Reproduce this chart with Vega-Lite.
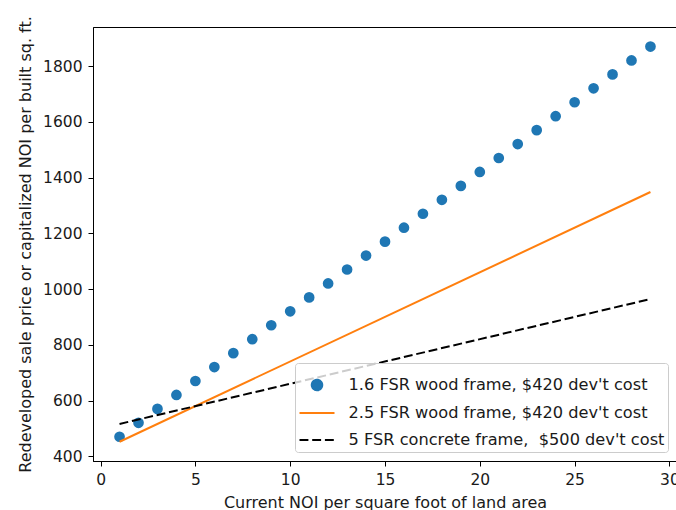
{
  "$schema": "https://vega.github.io/schema/vega-lite/v6.json",
  "width": 584,
  "height": 434,
  "autosize": {"type": "none"},
  "padding": {"left": 93, "top": 27, "right": 0, "bottom": 49},
  "background": "white",
  "config": {
    "font": "DejaVu Sans",
    "view": {"stroke": "#000000", "strokeWidth": 1},
    "axis": {
      "grid": false,
      "domainColor": "#000000",
      "domainWidth": 1,
      "tickColor": "#000000",
      "tickSize": 5,
      "tickWidth": 1,
      "labelFontSize": 15.5,
      "labelColor": "#1a1a1a",
      "titleFontSize": 16,
      "titleFontWeight": "normal",
      "titleColor": "#1a1a1a"
    },
    "legend": {
      "fillColor": "rgba(255,255,255,0.8)",
      "strokeColor": "#cccccc",
      "cornerRadius": 3,
      "padding": 3.5,
      "labelFontSize": 16.2,
      "labelColor": "#1a1a1a",
      "labelLimit": 0,
      "rowPadding": -6,
      "symbolSize": 1225,
      "symbolStrokeWidth": 2,
      "labelOffset": 13
    }
  },
  "datasets": {
    "dots": [
      {"x": 1, "y": 470, "series": "A"}, {"x": 2, "y": 520, "series": "A"}, {"x": 3, "y": 570, "series": "A"},
      {"x": 4, "y": 620, "series": "A"}, {"x": 5, "y": 670, "series": "A"}, {"x": 6, "y": 720, "series": "A"},
      {"x": 7, "y": 770, "series": "A"}, {"x": 8, "y": 820, "series": "A"}, {"x": 9, "y": 870, "series": "A"},
      {"x": 10, "y": 920, "series": "A"}, {"x": 11, "y": 970, "series": "A"}, {"x": 12, "y": 1020, "series": "A"},
      {"x": 13, "y": 1070, "series": "A"}, {"x": 14, "y": 1120, "series": "A"}, {"x": 15, "y": 1170, "series": "A"},
      {"x": 16, "y": 1220, "series": "A"}, {"x": 17, "y": 1270, "series": "A"}, {"x": 18, "y": 1320, "series": "A"},
      {"x": 19, "y": 1370, "series": "A"}, {"x": 20, "y": 1420, "series": "A"}, {"x": 21, "y": 1470, "series": "A"},
      {"x": 22, "y": 1520, "series": "A"}, {"x": 23, "y": 1570, "series": "A"}, {"x": 24, "y": 1620, "series": "A"},
      {"x": 25, "y": 1670, "series": "A"}, {"x": 26, "y": 1720, "series": "A"}, {"x": 27, "y": 1770, "series": "A"},
      {"x": 28, "y": 1820, "series": "A"}, {"x": 29, "y": 1870, "series": "A"}
    ],
    "orange": [
      {"x": 1, "y": 452, "series": "B"}, {"x": 29, "y": 1348, "series": "B"}
    ],
    "black": [
      {"x": 1, "y": 516, "series": "C"}, {"x": 29, "y": 964, "series": "C"}
    ]
  },
  "layer": [
    {
      "data": {"name": "dots"},
      "mark": {"type": "point", "filled": true, "opacity": 1, "size": 115, "shape": "circle"},
      "encoding": {
        "x": {
          "field": "x", "type": "quantitative",
          "scale": {"domain": [-0.4, 30.4], "nice": false, "zero": false},
          "axis": {"values": [0, 5, 10, 15, 20, 25, 30], "title": "Current NOI per square foot of land area", "labelPadding": 6, "titlePadding": 7}
        },
        "y": {
          "field": "y", "type": "quantitative",
          "scale": {"domain": [383, 1940], "nice": false, "zero": false},
          "axis": {"values": [400, 600, 800, 1000, 1200, 1400, 1600, 1800], "format": "d", "title": "Redeveloped sale price or capitalized NOI per built sq. ft.", "labelPadding": 6, "titlePadding": 9}
        },
        "color": {
          "field": "series", "type": "nominal",
          "scale": {"domain": ["A", "B", "C"], "range": ["#1f77b4", "#ff7f0e", "#000000"]},
          "legend": {
            "title": null,
            "orient": "bottom-right",
            "offset": 9,
            "labelExpr": "datum.value === 'A' ? \"1.6 FSR wood frame, $420 dev't cost\" : datum.value === 'B' ? \"2.5 FSR wood frame, $420 dev't cost\" : \"5 FSR concrete frame,\u00a0 $500 dev't cost\"",
            "symbolType": {"expr": "datum.value === 'A' ? 'M -0.3,0 A 0.3,0.3 0 1,0 0.3,0 A 0.3,0.3 0 1,0 -0.3,0 Z' : 'stroke'"},
            "symbolDash": {"expr": "datum.value === 'C' ? [8.9, 3.8] : [1, 0]"},
            "symbolFillColor": {"expr": "datum.value === 'A' ? '#1f77b4' : 'transparent'"},
            "symbolStrokeColor": {"expr": "datum.value === 'A' ? 'transparent' : datum.value === 'B' ? '#ff7f0e' : '#000000'"}
          }
        }
      }
    },
    {
      "data": {"name": "orange"},
      "mark": {"type": "line", "strokeWidth": 2},
      "encoding": {
        "x": {"field": "x", "type": "quantitative"},
        "y": {"field": "y", "type": "quantitative"},
        "color": {"field": "series", "type": "nominal", "legend": null}
      }
    },
    {
      "data": {"name": "black"},
      "mark": {"type": "line", "strokeWidth": 2, "strokeDash": [8.9, 3.8]},
      "encoding": {
        "x": {"field": "x", "type": "quantitative"},
        "y": {"field": "y", "type": "quantitative"},
        "color": {"field": "series", "type": "nominal", "legend": null}
      }
    }
  ]
}
